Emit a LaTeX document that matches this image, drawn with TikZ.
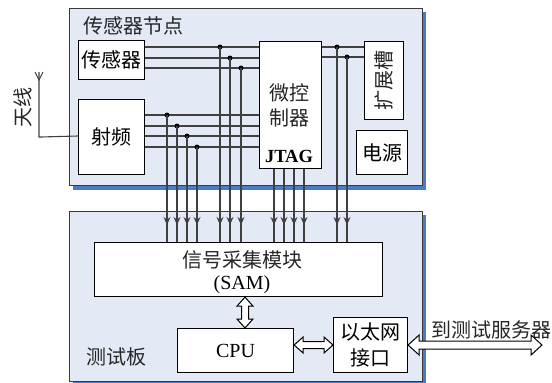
\documentclass[tikz,border=0pt]{standalone}
\usepackage{fontspec}
\setmainfont{Liberation Serif}
\newfontfamily\cjk{Noto Sans CJK SC}
\usetikzlibrary{arrows.meta,calc}
\definecolor{panelfill}{HTML}{E4EAF5}
\definecolor{panelshadow}{HTML}{4A7CC6}
\definecolor{panelline}{HTML}{3A3A3A}
\definecolor{wire}{HTML}{404040}
\begin{document}
\begin{tikzpicture}[x=1pt,y=-1pt,
  panel/.style={draw=panelline,line width=1pt,fill=panelfill},
  shadowrect/.style={fill=panelshadow,draw=none},
  box/.style={draw=black,line width=1.1pt,fill=white,inner sep=0pt,anchor=north west,font=\cjk\fontsize{20}{25}\selectfont,align=center},
  lbl/.style={inner sep=0pt,font=\cjk\fontsize{20}{25}\selectfont,text=black!85},
  latin/.style={inner sep=0pt,font=\fontsize{20}{26}\selectfont},
  sig/.style={draw=wire,line width=1.1pt},
  tipped/.style={sig,-{Stealth[open,length=8pt,width=7pt,line width=0.9pt]}},
  dot/.style={circle,fill=black,inner sep=0pt,minimum size=5pt},
  dbl/.style={draw=black,line width=1pt,fill=white,line join=miter}
]
\useasboundingbox (0,0) rectangle (552,383);
% panels
\fill[shadowrect] (73,12) rectangle (426,190);
\draw[panel] (69,8) rectangle (422,185);
\fill[shadowrect] (73,215) rectangle (426,385);
\draw[panel] (69,211) rectangle (422,381);
\node[lbl,anchor=west] (nodetitle) at (83,26) {传感器节点};
\node[lbl,anchor=west] (boardtitle) at (86,357) {测试板};
% boxes top
\node[box,minimum width=66pt,minimum height=39pt] (sensor) at (78,40) {传感器};
\node[box,minimum width=66pt,minimum height=75pt] (rf) at (78,99) {射频};
\node[box,minimum width=62pt,minimum height=127pt] (mcu) at (259,41) {};
\node[lbl] (mcut1) at (289,93) {微控};
\node[lbl] (mcut2) at (289,118) {制器};
\node[latin,font=\bfseries\fontsize{18.5}{22}\selectfont] (jtag) at (289,156) {JTAG};
\node[box,minimum width=39pt,minimum height=78pt] (ext) at (364,41) {};
\node[lbl,rotate=90] (extt) at (ext.center) {扩展槽};
\node[box,minimum width=51pt,minimum height=44pt] (pwr) at (356,130) {电源};
% antenna
\coordinate (ant) at (39,80);
\draw[sig] (rf.west |- 0,136) -- (ant |- rf.west) -- (39,72);
\draw[sig] (35,72) -- (ant) -- (43,72);
\node[lbl,rotate=90] (antl) at (23,107) {天线};
% bottom boxes
\node[box,minimum width=288pt,minimum height=54pt] (sam) at (94,242) {};
\node[lbl] (samt1) at (242,260) {信号采集模块};
\node[latin] (samt2) at (242,285) {(SAM)};
\node[box,minimum width=116pt,minimum height=44pt,font=\fontsize{20}{24}\selectfont] (cpu) at (177,328) {CPU};
\node[box,minimum width=74pt,minimum height=55pt,font=\cjk\fontsize{20}{26}\selectfont] (eth) at (333,317) {以太网\\接口};
\node[lbl,anchor=west] (server) at (431,330) {到测试服务器};
% sensor lines
\coordinate (tip) at (0,225);
\foreach \y/\x/\n in {47/220/s1,58/230/s2,68/241/s3}{
  \draw[sig] (sensor.east |- 0,\y) -- (mcu.west |- 0,\y);
  \node[dot] (\n) at (\x,\y) {};
  \draw[sig] (\n.center) -- (\n |- sam.north);
  \draw[tipped] (\n.center) -- (\n |- tip);
}
\foreach \y/\x/\n in {115/167/r1,126/177/r2,136/187/r3,147/197/r4}{
  \draw[sig] (rf.east |- 0,\y) -- (mcu.west |- 0,\y);
  \node[dot] (\n) at (\x,\y) {};
  \draw[sig] (\n.center) -- (\n |- sam.north);
  \draw[tipped] (\n.center) -- (\n |- tip);
}
\foreach \y/\x/\n in {47/337/e1,57/347/e2}{
  \draw[sig] (mcu.east |- 0,\y) -- (ext.west |- 0,\y);
  \node[dot] (\n) at (\x,\y) {};
  \draw[sig] (\n.center) -- (\n |- sam.north);
  \draw[tipped] (\n.center) -- (\n |- tip);
}
\foreach \x/\n in {274/j1,284/j2,294/j3,304/j4}{
  \coordinate (\n) at (\x,168);
  \draw[sig] (\n |- mcu.south) -- (\n |- sam.north);
  \draw[tipped] (\n |- mcu.south) -- (\n |- tip);
}
% hollow double arrows
\coordinate (va) at (245,0);
\draw[dbl] let \p1=(va |- sam.south), \p2=(va |- cpu.north) in
  (\x1,\y1) -- (\x1+8pt,\y1-9pt) -- (\x1+3.5pt,\y1-9pt) -- (\x1+3.5pt,\y2+9pt) -- (\x1+8pt,\y2+9pt)
  -- (\x1,\y2) -- (\x1-8pt,\y2+9pt) -- (\x1-3.5pt,\y2+9pt) -- (\x1-3.5pt,\y1-9pt) -- (\x1-8pt,\y1-9pt) -- cycle;
\coordinate (ha) at (0,345);
\draw[dbl] let \p1=(cpu.east |- ha), \p2=(eth.west |- ha) in
  (\x1,\y1) -- (\x1+9pt,\y1+8pt) -- (\x1+9pt,\y1+3.5pt) -- (\x2-9pt,\y1+3.5pt) -- (\x2-9pt,\y1+8pt)
  -- (\x2,\y1) -- (\x2-9pt,\y1-8pt) -- (\x2-9pt,\y1-3.5pt) -- (\x1+9pt,\y1-3.5pt) -- (\x1+9pt,\y1-8pt) -- cycle;
\coordinate (out) at (542,345);
\draw[dbl] let \p1=(eth.east |- out), \p2=(out) in
  (\x1,\y1) -- (\x1+11pt,\y1+10pt) -- (\x1+11pt,\y1+4pt) -- (\x2-11pt,\y1+4pt) -- (\x2-11pt,\y1+10pt)
  -- (\x2,\y1) -- (\x2-11pt,\y1-10pt) -- (\x2-11pt,\y1-4pt) -- (\x1+11pt,\y1-4pt) -- (\x1+11pt,\y1-10pt) -- cycle;
\end{tikzpicture}
\end{document}
